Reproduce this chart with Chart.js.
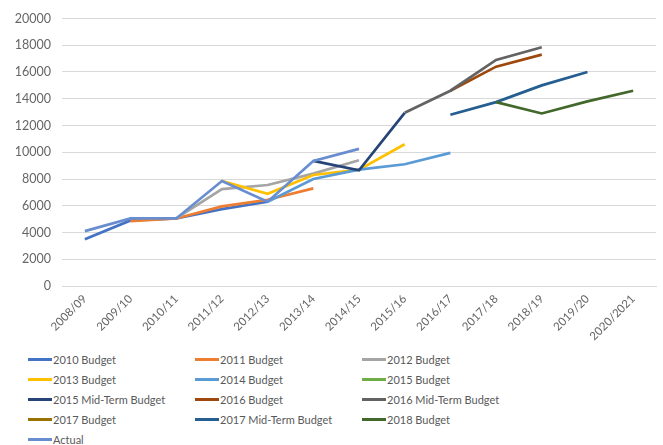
<!DOCTYPE html>
<html>
<head>
<meta charset="utf-8">
<script src="https://cdn.jsdelivr.net/npm/chart.js@4/dist/chart.umd.min.js"></script>
<style>
  html, body { margin: 0; padding: 0; background: #ffffff; }
  #wrap { position: relative; width: 663px; height: 445px; overflow: hidden; }
  #box { position: absolute; left: 0; top: 0; width: 663px; height: 345px; }
  #legend {
    position: absolute; left: 28px; top: 350px; width: 630px;
    display: grid; grid-template-columns: 167px 167px 260px; grid-auto-rows: 19.8px;
    font-family: Lato, "Open Sans", sans-serif; font-size: 11px; color: #595959;
  }
  .item { display: flex; align-items: center; white-space: nowrap; }
  .swatch { width: 24px; height: 3px; margin-right: 1px; }
</style>
</head>
<body>
<div id="wrap">
  <div id="box"><canvas id="c"></canvas></div>
  <div id="legend"></div>
</div>
<script>
// Financial years on the category axis
const years = ["2008/09", "2009/10", "2010/11", "2011/12", "2012/13", "2013/14", "2014/15",
               "2015/16", "2016/17", "2017/18", "2018/19", "2019/20", "2020/2021"];

// Value axis ticks
const yTicks = [0, 2000, 4000, 6000, 8000, 10000, 12000, 14000, 16000, 18000, 20000];

// One forecast per budget (null where a budget gives no figure)
const budget2010    = [3500, 4900, 5050, 5750, 6300, null, null, null, null, null, null, null, null];
const budget2011    = [null, 4850, 5050, 5950, 6450, 7300, null, null, null, null, null, null, null];
const budget2012    = [null, null, 5050, 7250, 7550, 8400, 9400, null, null, null, null, null, null];
const budget2013    = [null, null, null, 7850, 6900, 8300, 8700, 10600, null, null, null, null, null];
const budget2014    = [null, null, null, null, 6300, 8000, 8700, 9100, 9950, null, null, null, null];
const budget2015    = [null, null, null, null, null, null, null, null, null, null, null, null, null];
const midTerm2015   = [null, null, null, null, null, 9350, 8650, 12950, null, null, null, null, null];
const budget2016    = [null, null, null, null, null, null, null, null, 14600, 16400, 17300, null, null];
const midTerm2016   = [null, null, null, null, null, null, null, 12950, 14600, 16900, 17850, null, null];
const budget2017    = [null, null, null, null, null, null, null, null, null, null, null, null, null];
const midTerm2017   = [null, null, null, null, null, null, null, null, 12800, 13750, 15000, 16000, null];
const budget2018    = [null, null, null, null, null, null, null, null, null, 13750, 12900, 13800, 14600];
const actual        = [4100, 5050, 5050, 7850, 6300, 9350, 10250, null, null, null, null, null, null];

const seriesNames = ["2010 Budget", "2011 Budget", "2012 Budget", "2013 Budget", "2014 Budget",
                     "2015 Budget", "2015 Mid-Term Budget", "2016 Budget", "2016 Mid-Term Budget",
                     "2017 Budget", "2017 Mid-Term Budget", "2018 Budget", "Actual"];
const seriesValues = [budget2010, budget2011, budget2012, budget2013, budget2014, budget2015,
                      midTerm2015, budget2016, midTerm2016, budget2017, midTerm2017, budget2018, actual];
const seriesColors = ["#4472C4", "#ED7D31", "#A5A5A5", "#FFC000", "#5B9BD5", "#70AD47",
                      "#264478", "#9E480E", "#636363", "#997300", "#255E91", "#43682B", "#698ED0"];

const FONT = "Lato, 'Open Sans', sans-serif";
const TEXT = "#666666";
const GRID = "#D9D9D9";

// later series are painted over earlier ones
const datasets = seriesNames.map((name, i) => ({
  label: name,
  data: seriesValues[i],
  borderColor: seriesColors[i],
  backgroundColor: seriesColors[i],
  borderWidth: 2.7,
  pointRadius: 0,
  pointHoverRadius: 0,
  tension: 0,
  spanGaps: false,
  fill: false,
  order: seriesNames.length - i
}));

new Chart(document.getElementById("c"), {
  type: "line",
  data: { labels: years, datasets: datasets },
  options: {
    responsive: true,
    maintainAspectRatio: false,
    animation: false,
    layout: { padding: { left: 0, right: 7, top: 13, bottom: 0 } },
    plugins: { legend: { display: false }, tooltip: { enabled: false } },
    scales: {
      x: {
        offset: true,
        grid: { display: false, drawTicks: false },
        border: { display: true, color: GRID, width: 1 },
        ticks: {
          color: TEXT, font: { family: FONT, size: 11.5 },
          minRotation: 45, maxRotation: 45, padding: 6, autoSkip: false
        },
        afterFit: s => { s.height = 59; }
      },
      y: {
        min: 0, max: 20000,
        afterBuildTicks: s => { s.ticks = yTicks.map(v => ({ value: v })); },
        grid: { color: GRID, lineWidth: 1, drawTicks: false },
        border: { display: false },
        ticks: {
          color: TEXT, font: { family: FONT, size: 12.5 }, padding: 11,
          callback: v => String(v)
        },
        afterFit: s => { s.width = 62; }
      }
    }
  }
});

// Three-column legend beneath the plot
const legend = document.getElementById("legend");
seriesNames.forEach((name, i) => {
  const item = document.createElement("div");
  item.className = "item";
  const sw = document.createElement("span");
  sw.className = "swatch";
  sw.style.background = seriesColors[i];
  const label = document.createElement("span");
  label.textContent = name;
  item.appendChild(sw);
  item.appendChild(label);
  legend.appendChild(item);
});
</script>
</body>
</html>
